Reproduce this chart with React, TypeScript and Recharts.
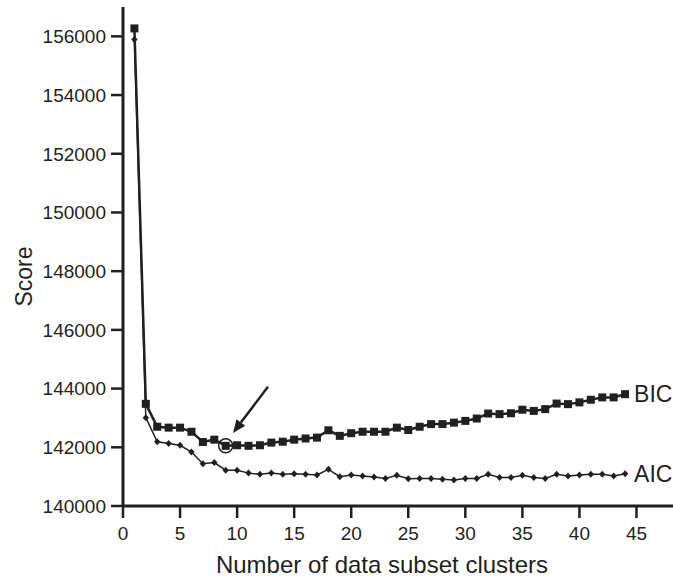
import { LineChart, Line, XAxis, YAxis, ReferenceDot, ReferenceLine, LabelList } from "recharts";

const clusters = [
  1, 2, 3, 4, 5, 6, 7, 8, 9, 10, 11, 12, 13, 14, 15, 16, 17, 18, 19, 20, 21, 22,
  23, 24, 25, 26, 27, 28, 29, 30, 31, 32, 33, 34, 35, 36, 37, 38, 39, 40, 41, 42, 43, 44,
];

const bic = [
  156270, 143480, 142700, 142670, 142670, 142530, 142180, 142260, 142050, 142070, 142050,
  142070, 142160, 142190, 142260, 142300, 142330, 142580, 142390, 142480, 142530, 142530,
  142530, 142670, 142590, 142700, 142790, 142790, 142840, 142900, 142980, 143150, 143130,
  143160, 143280, 143240, 143300, 143490, 143470, 143530, 143620, 143700, 143700, 143810,
];

const aic = [
  155890, 143010, 142190, 142130, 142070, 141840, 141440, 141480, 141220, 141220, 141120,
  141080, 141120, 141080, 141100, 141080, 141060, 141250, 141000, 141060, 141020, 140990,
  140940, 141050, 140930, 140940, 140940, 140910, 140890, 140940, 140940, 141080, 140970,
  140970, 141050, 140970, 140940, 141080, 141020, 141060, 141080, 141080, 141020, 141100,
];

const xTicks = [0, 5, 10, 15, 20, 25, 30, 35, 40, 45];
const yTicks = [140000, 142000, 144000, 146000, 148000, 150000, 152000, 154000, 156000];

// chosen model (circled) and the arrow pointing at it
const chosen = 9;
const arrowFrom = { x: 12.7, y: 144060 };
const arrowTo = { x: 9.64, y: 142490 };

const INK = "#231f20";
const FONT = "'Liberation Sans', Arial, Helvetica, sans-serif";

const data = clusters.map((n, i) => ({ n, bic: bic[i], aic: aic[i] }));
const last = data.length - 1;

function Square(props: any) {
  const { cx, cy, index } = props;
  if (cx == null || cy == null) return <g key={index} />;
  return <rect key={index} x={cx - 4} y={cy - 4} width={8} height={8} fill={INK} />;
}

function Diamond(props: any) {
  const { cx, cy, index } = props;
  if (cx == null || cy == null) return <g key={index} />;
  return (
    <polygon
      key={index}
      points={`${cx},${cy - 3.5} ${cx + 3.2},${cy} ${cx},${cy + 3.5} ${cx - 3.2},${cy}`}
      fill={INK}
    />
  );
}

function endLabel(text: string) {
  return (props: any) => {
    const { x, y, index } = props;
    if (index !== last) return null;
    return (
      <text x={x + 9} y={y} dy="0.36em" fontSize={23} fontFamily={FONT} fill={INK}>
        {text}
      </text>
    );
  };
}

function Arrow(props: any) {
  const { x1, y1, x2, y2 } = props;
  const ang = Math.atan2(y2 - y1, x2 - x1);
  const len = 13;
  const half = 5.5;
  const bx = x2 - len * Math.cos(ang);
  const by = y2 - len * Math.sin(ang);
  const px = -Math.sin(ang) * half;
  const py = Math.cos(ang) * half;
  return (
    <g>
      <line x1={x1} y1={y1} x2={bx} y2={by} stroke={INK} strokeWidth={2.5} />
      <polygon points={`${x2},${y2} ${bx + px},${by + py} ${bx - px},${by - py}`} fill={INK} />
    </g>
  );
}

export default function App() {
  return (
    <div style={{ position: "absolute", left: 0, top: 0, background: "#fff" }}>
      <LineChart width={673} height={581} data={data} margin={{ top: 7, right: 0, bottom: 0, left: 0 }}>
        <XAxis
          type="number"
          dataKey="n"
          domain={[0, 48.2]}
          ticks={xTicks}
          height={75}
          tickSize={12}
          tickMargin={9}
          axisLine={{ stroke: INK, strokeWidth: 3 }}
          tickLine={{ stroke: INK, strokeWidth: 2.5 }}
          tick={{ fontSize: 19, fill: INK, fontFamily: FONT }}
          label={{
            content: (p: any) => (
              <text
                x={p.viewBox.x + 259}
                y={p.viewBox.y + 67}
                textAnchor="middle"
                fontSize={24}
                fontFamily={FONT}
                fill={INK}
              >
                Number of data subset clusters
              </text>
            ),
          }}
        />
        <YAxis
          type="number"
          domain={[140000, 157000]}
          ticks={yTicks}
          width={123}
          tickSize={12}
          tickMargin={5}
          axisLine={{ stroke: INK, strokeWidth: 3 }}
          tickLine={{ stroke: INK, strokeWidth: 2.5 }}
          tick={{ fontSize: 19, fill: INK, fontFamily: FONT }}
          label={{
            content: (p: any) => {
              const cx = p.viewBox.x + 24;
              const cy = p.viewBox.y + p.viewBox.height / 2 + 20;
              return (
                <text
                  x={cx}
                  y={cy}
                  transform={`rotate(-90 ${cx} ${cy})`}
                  textAnchor="middle"
                  dominantBaseline="central"
                  fontSize={23}
                  fontFamily={FONT}
                  fill={INK}
                >
                  Score
                </text>
              );
            },
          }}
        />
        <Line
          type="linear"
          dataKey="aic"
          stroke={INK}
          strokeWidth={1.5}
          dot={Diamond}
          activeDot={false}
          isAnimationActive={false}
        >
          <LabelList dataKey="aic" content={endLabel("AIC")} />
        </Line>
        <Line
          type="linear"
          dataKey="bic"
          stroke={INK}
          strokeWidth={2.5}
          dot={Square}
          activeDot={false}
          isAnimationActive={false}
        >
          <LabelList dataKey="bic" content={endLabel("BIC")} />
        </Line>
        <ReferenceDot
          x={chosen}
          y={bic[chosen - 1]}
          r={7}
          fill="none"
          stroke={INK}
          strokeWidth={1.5}
          ifOverflow="visible"
        />
        <ReferenceLine
          segment={[arrowFrom, arrowTo]}
          ifOverflow="visible"
          shape={Arrow}
        />
      </LineChart>
    </div>
  );
}
